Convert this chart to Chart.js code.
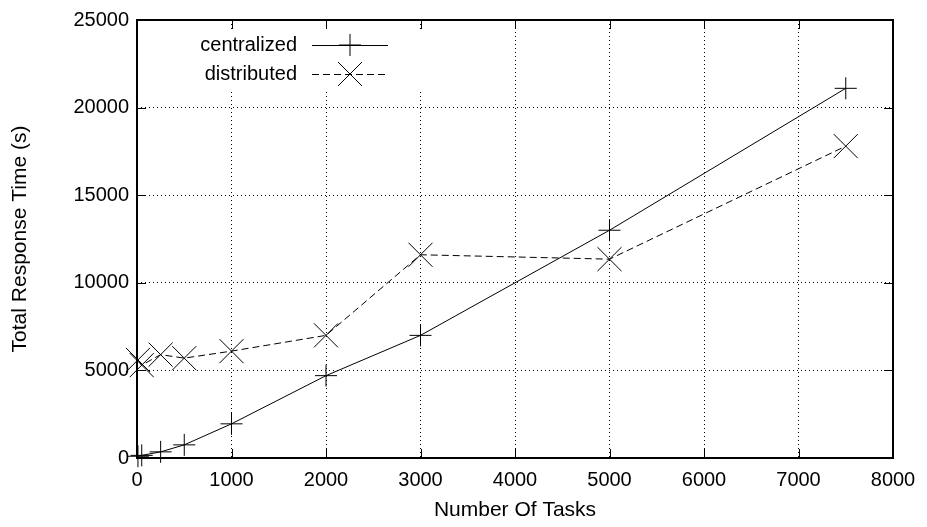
<!DOCTYPE html>
<html>
<head>
<meta charset="utf-8">
<title>Total Response Time</title>
<script src="https://cdn.jsdelivr.net/npm/chart.js@4.4.1/dist/chart.umd.min.js"></script>
<style>
  html, body { margin: 0; padding: 0; background: #fff; }
  #wrap { width: 927px; height: 527px; }
</style>
</head>
<body>
<div id="wrap"><canvas id="chart" width="927" height="527"></canvas></div>
<script>
const TASKS        = [10, 50, 250, 500, 1000, 2000, 3000, 5000, 7500];
const CENTRALIZED  = [100, 150, 350, 750, 1950, 4700, 7000, 13000, 21100];
const DISTRIBUTED  = [5600, 5300, 5900, 5700, 6100, 7000, 11600, 11350, 17800];
const SERIES_NAMES = ['centralized', 'distributed'];

const X_TICKS = [0, 1000, 2000, 3000, 4000, 5000, 6000, 7000, 8000];
const Y_TICKS = [0, 5000, 10000, 15000, 20000, 25000];

const FONT = "'Liberation Sans', Arial, sans-serif";

const toPoints = (xs, ys) => xs.map((x, i) => ({ x, y: ys[i] }));

// ── frame, inward ticks, legend (gnuplot look) ──────────────────────
const framePlugin = {
  id: 'frame',
  afterDraw(chart) {
    const { ctx, chartArea: a, scales: { x, y } } = chart;
    ctx.save();
    ctx.strokeStyle = '#000';
    ctx.lineWidth = 1;
    ctx.beginPath();
    X_TICKS.forEach(v => {
      const px = Math.round(x.getPixelForValue(v)) + 0.5;
      ctx.moveTo(px, a.bottom); ctx.lineTo(px, a.bottom - 9);
      ctx.moveTo(px, a.top);    ctx.lineTo(px, a.top + 9);
    });
    Y_TICKS.forEach(v => {
      const py = Math.round(y.getPixelForValue(v)) + 0.5;
      ctx.moveTo(a.left, py);  ctx.lineTo(a.left + 9, py);
      ctx.moveTo(a.right, py); ctx.lineTo(a.right - 9, py);
    });
    ctx.stroke();
    ctx.lineWidth = 2;
    ctx.strokeRect(a.left, a.top, a.right - a.left, a.bottom - a.top);

    // legend inside the plot: label, then line sample with marker
    ctx.fillStyle = '#fff';
    ctx.fillRect(a.left + 45, a.top + 9, 260, 60);
    ctx.font = '20px ' + FONT;
    ctx.textAlign = 'right';
    ctx.textBaseline = 'middle';
    chart.data.datasets.forEach((ds, i) => {
      const ly = a.top + 25 + i * 29;
      const tx = a.left + 160;
      const x0 = a.left + 175, x1 = a.left + 251;
      ctx.fillStyle = '#000';
      ctx.fillText(ds.label, tx, ly);
      ctx.strokeStyle = '#000';
      ctx.lineWidth = 1;
      ctx.setLineDash(ds.borderDash || []);
      ctx.beginPath();
      ctx.moveTo(x0, ly + 0.5); ctx.lineTo(x1, ly + 0.5);
      ctx.stroke();
      ctx.setLineDash([]);
      Chart.helpers.drawPoint(ctx, {
        pointStyle: ds.pointStyle, radius: ds.pointRadius, rotation: 0, borderWidth: 1
      }, (x0 + x1) / 2, ly);
    });
    ctx.restore();
  }
};

new Chart(document.getElementById('chart'), {
  type: 'line',
  data: {
    datasets: [
      {
        label: SERIES_NAMES[0],
        data: toPoints(TASKS, CENTRALIZED),
        borderColor: '#000',
        borderWidth: 1,
        pointStyle: 'cross',
        pointRadius: 11,
        pointBorderColor: '#000',
        pointBorderWidth: 1,
        tension: 0,
      },
      {
        label: SERIES_NAMES[1],
        data: toPoints(TASKS, DISTRIBUTED),
        borderColor: '#000',
        borderWidth: 1,
        borderDash: [7, 4],
        pointStyle: 'crossRot',
        pointRadius: 17,
        pointBorderColor: '#000',
        pointBorderWidth: 1,
        tension: 0,
      },
    ],
  },
  options: {
    responsive: false,
    animation: false,
    clip: false,
    layout: { padding: { top: 18, right: 34, left: 0, bottom: 0 } },
    plugins: { legend: { display: false }, tooltip: { enabled: false } },
    scales: {
      x: {
        type: 'linear',
        min: 0, max: 8000,
        afterBuildTicks: s => { s.ticks = X_TICKS.map(v => ({ value: v })); },
        afterFit: s => { s.height = 69; },
        grid: { color: '#000', lineWidth: 1, drawTicks: false },
        border: { display: false, dash: [1, 3] },
        ticks: {
          color: '#000', padding: 10, maxRotation: 0,
          font: { family: FONT, size: 20 },
          callback: v => String(v),
        },
        title: {
          display: true, text: 'Number Of Tasks', color: '#000',
          font: { family: FONT, size: 21 }, padding: { top: 6 },
        },
      },
      y: {
        type: 'linear',
        min: 0, max: 25000,
        afterBuildTicks: s => { s.ticks = Y_TICKS.map(v => ({ value: v })); },
        afterFit: s => { s.width = 137; },
        grid: { color: '#000', lineWidth: 1, drawTicks: false },
        border: { display: false, dash: [1, 3] },
        ticks: {
          color: '#000', padding: 8,
          font: { family: FONT, size: 20 },
          callback: v => String(v),
        },
        title: {
          display: true, text: 'Total Response Time (s)', color: '#000',
          font: { family: FONT, size: 21 }, padding: { top: 8, bottom: 0 },
        },
      },
    },
  },
  plugins: [framePlugin],
});
</script>
</body>
</html>
